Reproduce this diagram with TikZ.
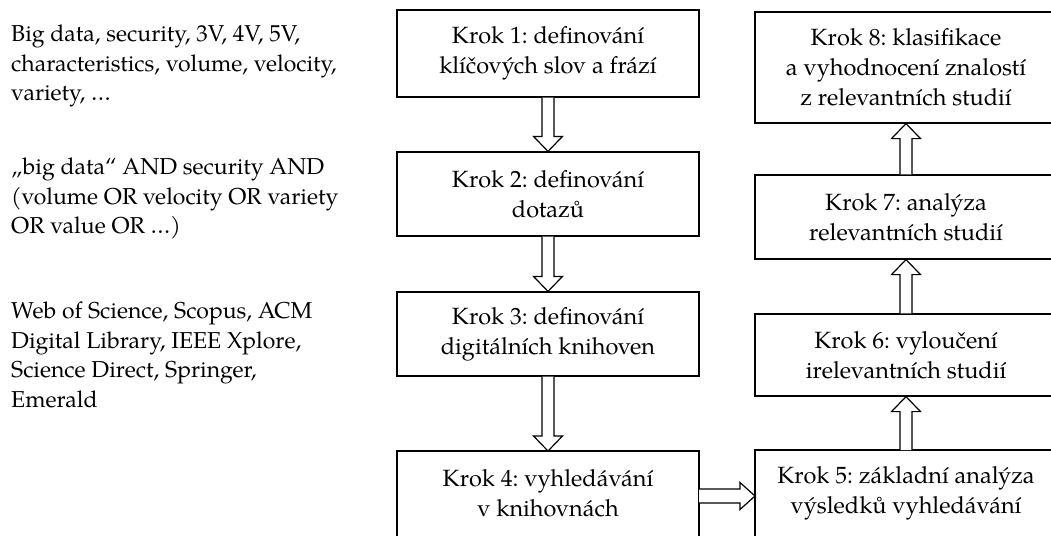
\documentclass[tikz,border=0pt]{standalone}
\usepackage{fontspec}
\setmainfont{TeX Gyre Pagella}
\usetikzlibrary{calc}
\tikzset{
  box/.style={draw, line width=1.2pt, minimum width=302pt, align=center, inner sep=0pt,
    font=\fontsize{23.5pt}{30pt}\selectfont},
  txt/.style={align=center, inner sep=0pt, font=\fontsize{23.5pt}{30pt}\selectfont},
  note/.style={align=left, inner sep=0pt, anchor=north west, font=\fontsize{23pt}{29.5pt}\selectfont},
  blk/.style={line width=1.2pt, line join=miter, fill=white},
  frame/.style={draw, line width=1.2pt}
}
\frenchspacing
\begin{document}
\begin{tikzpicture}[x=1pt,y=-1pt]
\useasboundingbox (0,0) rectangle (1051,535);
\clip (0,0) rectangle (1051,535);
% notes
\node[note] (n1) at (11,25) {Big data, security, 3V, 4V, 5V,\\characteristics, volume, velocity,\\variety, \dots};
\node[note] (n2) at (11,158) {„big data“ AND security AND\\(volume OR velocity OR variety\\OR value OR \dots)};
\node[note] (n3) at (11,302) {Web of Science, Scopus, ACM\\Digital Library, IEEE Xplore,\\Science Direct, Springer,\\Emerald};
% left column
\node[box, minimum height=87pt] (b1) at (548,53.5) {Krok 1: definování\\klíčových slov a frází};
\node[box, minimum height=84pt] (b2) at (548,194) {Krok 2: definování\\dotazů};
\node[box, minimum height=84pt] (b3) at (548,334) {Krok 3: definování\\digitálních knihoven};
\node[txt] (b4) at (548,493) {Krok 4: vyhledávání\\v knihovnách};
\draw[frame] ($(b4.center)+(-151,-42)$) rectangle ($(b4.center)+(151,70)$);
% right column
\node[txt] (b5) at (906,493) {Krok 5: základní analýza\\výsledků vyhledávání};
\draw[frame] ($(b5.center)+(-151,-43)$) rectangle ($(b5.center)+(151,70)$);
\node[box, minimum height=82pt] (b6) at (906,355) {Krok 6: vyloučení\\irelevantních studií};
\node[box, minimum height=84pt] (b7) at (906,217) {Krok 7: analýza\\relevantních studií};
\node[box, minimum height=111pt] (b8) at (906,67.5) {Krok 8: klasifikace\\a vyhodnocení znalostí\\z relevantních studií};
% down arrows
\foreach \a/\b in {b1/b2,b2/b3} {
  \draw[blk] let \p1=(\a.south), \p2=(\b.north) in
    (\x1-6pt,\y1) -- (\x1-6pt,\y2+15pt) -- (\x1-14.5pt,\y2+15pt) -- (\x1,\y2)
    -- (\x1+14.5pt,\y2+15pt) -- (\x1+6pt,\y2+15pt) -- (\x1+6pt,\y1);
}
\draw[blk] let \p1=(b3.south), \p2=($(b4.center)+(0,-42)$) in
    (\x1-6pt,\y1) -- (\x1-6pt,\y2+15pt) -- (\x1-14.5pt,\y2+15pt) -- (\x1,\y2)
    -- (\x1+14.5pt,\y2+15pt) -- (\x1+6pt,\y2+15pt) -- (\x1+6pt,\y1);
% up arrows
\draw[blk] let \p1=($(b5.center)+(0,-43)$), \p2=(b6.south) in
    (\x1-6pt,\y1) -- (\x1-6pt,\y2-15pt) -- (\x1-14.5pt,\y2-15pt) -- (\x1,\y2)
    -- (\x1+14.5pt,\y2-15pt) -- (\x1+6pt,\y2-15pt) -- (\x1+6pt,\y1);
\foreach \a/\b in {b6/b7,b7/b8} {
  \draw[blk] let \p1=(\a.north), \p2=(\b.south) in
    (\x1-6pt,\y1) -- (\x1-6pt,\y2-15pt) -- (\x1-14.5pt,\y2-15pt) -- (\x1,\y2)
    -- (\x1+14.5pt,\y2-15pt) -- (\x1+6pt,\y2-15pt) -- (\x1+6pt,\y1);
}
% right arrow
\draw[blk] let \p1=($(b4.center)+(151,3)$), \p2=($(b5.center)+(-151,3)$) in
    (\x1,\y1+7pt) -- (\x2-15pt,\y1+7pt) -- (\x2-15pt,\y1+13.5pt) -- (\x2,\y1)
    -- (\x2-15pt,\y1-13.5pt) -- (\x2-15pt,\y1-7pt) -- (\x1,\y1-7pt);
\end{tikzpicture}
\end{document}
